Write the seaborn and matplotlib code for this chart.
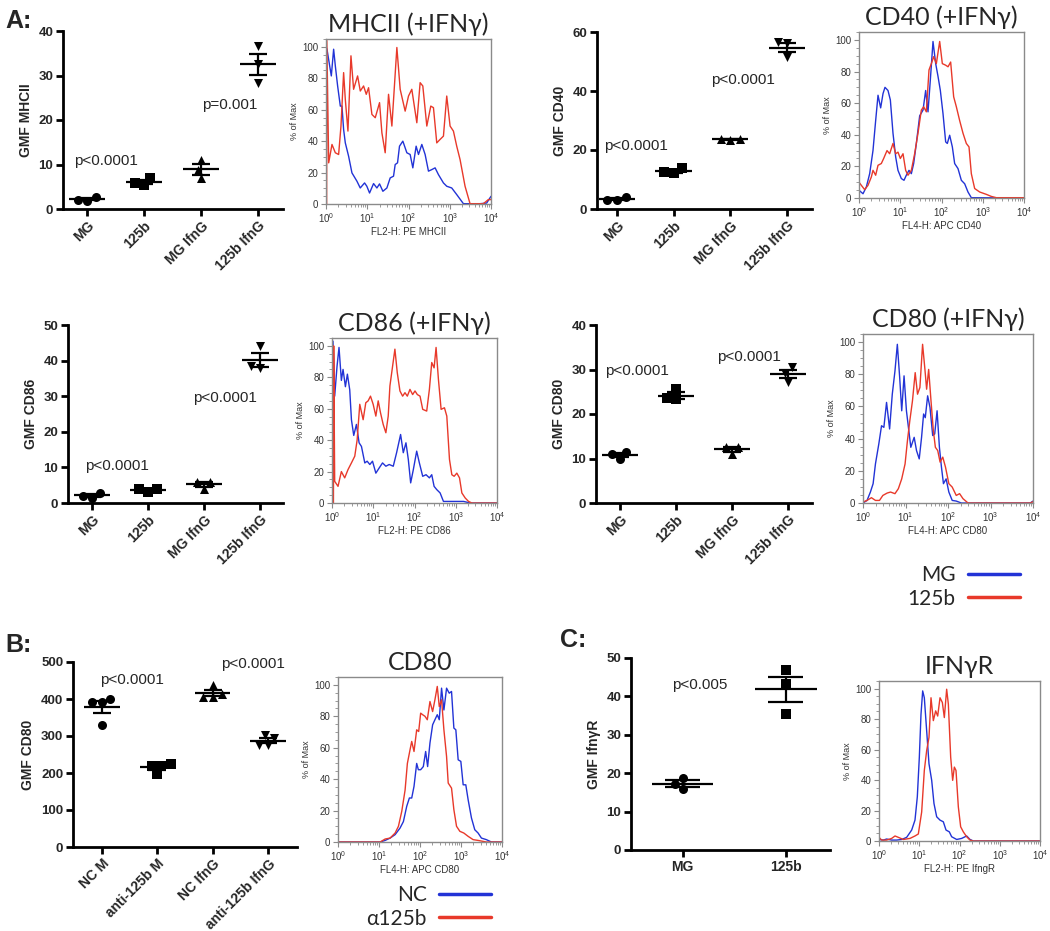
import numpy as np
import pandas as pd
import matplotlib
matplotlib.use("Agg")
import matplotlib.pyplot as plt
import seaborn as sns
from matplotlib.lines import Line2D
from matplotlib.ticker import MultipleLocator, LogLocator, NullFormatter

sns.set_style("ticks")
plt.rcParams["font.family"] = ["Liberation Sans", "DejaVu Sans"]
TITLE_FONT = ["Lato", "Open Sans", "DejaVu Sans"]

# ---------------- data: scatter panels ----------------
GROUPS_A = ["MG", "125b", "MG IfnG", "125b IfnG"]
GROUPS_B = ["NC M", "anti-125b M", "NC IfnG", "anti-125b IfnG"]
GROUPS_C = ["MG", "125b"]

MHCII_VALUES = [[2.6, 1.8, 2.1], [6.9, 5.4, 5.8], [11.1, 8.8, 6.9], [36.6, 32.6, 28.3]]
CD40_VALUES = [[4.2, 3.0, 3.2], [13.8, 12.2, 12.5], [23.7, 23.5, 23.6], [56.5, 56.2, 51.5]]
CD86_VALUES = [[2.8, 1.5, 2.1], [4.0, 3.2, 3.9], [6.0, 4.0, 5.8], [44.2, 37.9, 38.4]]
CD80_VALUES = [[11.4, 9.9, 11.1], [25.6, 23.3, 23.5], [12.6, 11.0, 12.5], [30.5, 29.2, 27.3]]
B_CD80_VALUES = [[392, 391, 401, 329], [220, 198, 224, 218], [414, 438, 405, 406], [295, 303, 275, 277]]
C_IFNGR_VALUES = [[18.8, 15.8, 17.3], [46.8, 43.2, 35.5]]

MHCII_P = [("p<0.0001", 0.33, 10.8), ("p=0.001", 2.5, 23.4)]
CD40_P = [("p<0.0001", 0.33, 21.2), ("p<0.0001", 2.23, 43.7)]
CD86_P = [("p<0.0001", 0.45, 10.4), ("p<0.0001", 2.38, 29.6)]
CD80_P = [("p<0.0001", 0.3, 29.7), ("p<0.0001", 2.3, 32.9)]
B_P = [("p<0.0001", 0.54, 452), ("p<0.0001", 2.73, 495)]
C_P = [("p<0.005", 0.17, 43)]

# ---------------- data: histograms (log10 fluorescence, % of max) ----------------
MHCII_MG_X = [0.0, 0.024, 0.089, 0.129, 0.185, 0.226, 0.282, 0.347, 0.387, 0.427, 0.468, 0.548, 0.629, 0.75, 0.83, 0.935, 0.99, 1.056, 1.153, 1.234, 1.298, 1.379, 1.476, 1.556, 1.637, 1.677, 1.734, 1.782, 1.863, 1.96, 2.04, 2.105, 2.185, 2.242, 2.323, 2.403, 2.484, 2.565, 2.645, 2.726, 2.847, 2.927, 3.048, 3.169, 3.331, 3.734, 3.895, 4.0]
MHCII_MG_Y = [100, 98.5, 87.9, 81.5, 98.5, 87.9, 75.1, 62.3, 62.3, 47.4, 38.9, 30.4, 19.8, 14.5, 10.2, 13.4, 11.3, 7.0, 13.0, 10.2, 12.8, 8.1, 10.2, 16.6, 17.7, 25.1, 26.2, 36.8, 40.0, 32.6, 31.5, 23.0, 36.8, 31.5, 37.9, 31.5, 20.9, 21.9, 23.0, 18.7, 13.4, 11.3, 10.2, 6.0, 0.2, 0.2, 0.6, 4.9]
MHCII_125B_X = [0.015, 0.02, 0.065, 0.145, 0.226, 0.306, 0.363, 0.427, 0.468, 0.532, 0.605, 0.669, 0.766, 0.831, 0.911, 0.976, 1.032, 1.113, 1.194, 1.298, 1.355, 1.435, 1.516, 1.597, 1.718, 1.798, 1.919, 2.0, 2.08, 2.202, 2.282, 2.347, 2.444, 2.54, 2.605, 2.685, 2.766, 2.847, 2.927, 3.008, 3.089, 3.169, 3.25, 3.371, 3.492, 3.815, 3.935, 4.0]
MHCII_125B_Y = [0, 104, 26.2, 37.9, 32.6, 31.5, 49.6, 83.6, 66.6, 46.4, 94.3, 73.0, 81.5, 71.9, 75.1, 69.8, 74.0, 57.0, 54.9, 64.5, 45.3, 32.6, 69.8, 49.6, 99.6, 73.0, 59.1, 68.7, 73.0, 51.7, 77.2, 75.1, 49.6, 62.3, 61.3, 38.9, 41.1, 43.2, 68.7, 49.6, 46.4, 36.8, 28.3, 11.3, 0.2, 0.2, 2.8, 2.8]

CD40_MG_X = [0.0, 0.097, 0.178, 0.259, 0.339, 0.404, 0.461, 0.525, 0.582, 0.63, 0.703, 0.76, 0.824, 0.889, 0.945, 1.026, 1.091, 1.147, 1.212, 1.269, 1.325, 1.39, 1.471, 1.552, 1.616, 1.673, 1.729, 1.794, 1.859, 1.915, 1.972, 2.036, 2.101, 2.141, 2.198, 2.263, 2.319, 2.4, 2.481, 2.562, 2.642, 2.723, 4.0]
CD40_MG_Y = [4.9, 2.7, 7.0, 15.4, 30.0, 49.0, 65.0, 57.0, 66.0, 70.0, 68.0, 62.0, 41.0, 26.0, 17.5, 12.3, 11.2, 14.4, 17.5, 15.4, 21.8, 34.5, 52.0, 55.6, 68.0, 54.5, 74.6, 99.0, 85.0, 77.0, 68.0, 53.5, 35.5, 34.5, 39.7, 32.3, 21.8, 18.6, 11.2, 9.0, 3.8, 0.2, 0.0]
CD40_125B_X = [0.0, 0.057, 0.137, 0.218, 0.299, 0.339, 0.404, 0.461, 0.541, 0.598, 0.679, 0.743, 0.824, 0.889, 0.945, 1.002, 1.067, 1.131, 1.188, 1.269, 1.349, 1.43, 1.511, 1.568, 1.632, 1.697, 1.754, 1.81, 1.875, 1.956, 2.02, 2.101, 2.158, 2.222, 2.295, 2.36, 2.44, 2.521, 2.602, 2.667, 2.723, 2.804, 2.925, 3.087, 3.208, 3.329, 4.0]
CD40_125B_Y = [10.0, 8.0, 5.3, 8.0, 13.3, 17.5, 14.4, 20.7, 21.8, 25.0, 30.0, 28.0, 34.5, 28.0, 29.0, 25.0, 28.0, 17.5, 14.4, 17.5, 28.0, 41.0, 55.6, 57.7, 54.5, 81.0, 85.0, 89.4, 85.0, 99.0, 85.0, 84.0, 83.0, 86.0, 64.0, 57.7, 49.0, 41.0, 34.5, 32.3, 15.4, 6.0, 3.8, 2.3, 1.0, 0.2, 0.2]

CD86_MG_X = [0.02, 0.024, 0.065, 0.122, 0.17, 0.227, 0.268, 0.325, 0.373, 0.43, 0.471, 0.527, 0.592, 0.657, 0.714, 0.795, 0.852, 0.917, 0.982, 1.063, 1.144, 1.225, 1.306, 1.387, 1.485, 1.566, 1.663, 1.728, 1.793, 1.85, 1.907, 1.972, 2.053, 2.118, 2.199, 2.28, 2.361, 2.418, 2.475, 2.54, 2.621, 2.702, 2.783, 3.189, 3.351, 4.0]
CD86_MG_Y = [0, 103, 68, 87, 99, 78, 85, 74, 82, 72, 53, 43, 50, 38.3, 36, 25.5, 26.6, 24.5, 26.6, 19, 22.3, 25.5, 23.4, 24.5, 23.4, 32, 43.6, 32, 38.3, 27.7, 12.8, 21.3, 33, 25.5, 17, 18, 16, 18, 10.6, 8.5, 6.4, 1, 1, 1, 0, 0]
CD86_125B_X = [0.035, 0.041, 0.065, 0.146, 0.227, 0.308, 0.389, 0.471, 0.552, 0.609, 0.673, 0.755, 0.819, 0.876, 0.933, 0.998, 1.063, 1.12, 1.176, 1.241, 1.306, 1.363, 1.404, 1.525, 1.582, 1.647, 1.712, 1.769, 1.826, 1.89, 1.955, 2.012, 2.069, 2.134, 2.199, 2.296, 2.361, 2.418, 2.475, 2.523, 2.58, 2.645, 2.726, 2.783, 2.848, 2.905, 2.961, 3.026, 3.091, 3.148, 3.229, 3.31, 3.391, 4.0]
CD86_125B_Y = [0, 100, 13.8, 10.6, 20, 16, 21.3, 25.5, 29.8, 40, 62.8, 53, 63.8, 65, 68, 62.8, 55.3, 65, 57.4, 50, 44.7, 55.3, 74.5, 97.9, 83, 71.3, 68, 70.2, 68, 72.3, 69, 71.3, 69, 68, 59.6, 58.5, 72.3, 89.4, 86, 99, 78.7, 59.6, 60.6, 55.3, 27.7, 18, 17, 19, 16, 6.4, 3.2, 1, 0, 0]

CD80_MG_X = [0.0, 0.095, 0.174, 0.238, 0.293, 0.372, 0.436, 0.491, 0.554, 0.626, 0.689, 0.752, 0.808, 0.863, 0.911, 0.966, 1.022, 1.069, 1.125, 1.204, 1.259, 1.323, 1.378, 1.426, 1.465, 1.521, 1.576, 1.64, 1.687, 1.743, 1.798, 1.846, 1.893, 1.956, 2.02, 2.099, 2.194, 2.313, 3.937, 4.0]
CD80_MG_Y = [0, 1.6, 6.8, 12, 24.3, 36.7, 48, 47, 62.5, 46, 67.6, 82, 98.6, 78, 57.3, 79, 57.3, 47, 34.6, 40.8, 32.6, 27.4, 40.8, 55.3, 53, 66.6, 59.4, 41.9, 42.9, 57.3, 34.6, 22.3, 12, 15, 6.8, 1.6, 1.2, 0, 0, 1.2]
CD80_125B_X = [0.0, 0.095, 0.198, 0.293, 0.388, 0.467, 0.57, 0.649, 0.752, 0.832, 0.911, 0.99, 1.046, 1.101, 1.164, 1.228, 1.283, 1.339, 1.402, 1.457, 1.497, 1.545, 1.6, 1.655, 1.703, 1.758, 1.814, 1.877, 1.941, 2.02, 2.099, 2.194, 2.273, 2.352, 2.471, 3.937, 4.0]
CD80_125B_Y = [0.6, 1.6, 3.3, 1.6, 1.6, 4.7, 6.2, 6.8, 5.8, 8.9, 15, 24.3, 38.8, 51, 63.5, 81, 67.6, 71.8, 98.6, 83, 70.7, 83, 63.5, 45, 34.6, 32.6, 25.4, 28.5, 22.3, 12, 9.9, 4.7, 5.8, 2.7, 0, 0, 0.8]

B_NC_X = [0.0, 1.028, 1.15, 1.271, 1.393, 1.514, 1.595, 1.676, 1.741, 1.798, 1.854, 1.919, 1.96, 2.016, 2.081, 2.138, 2.186, 2.243, 2.308, 2.364, 2.421, 2.47, 2.526, 2.583, 2.648, 2.713, 2.769, 2.826, 2.874, 2.931, 2.996, 3.053, 3.117, 3.174, 3.255, 3.336, 3.417, 3.498, 3.619, 3.741, 4.0]
B_NC_Y = [0, 0, 1, 2.5, 4.7, 8.9, 13, 22.7, 28, 28, 35.4, 50, 46, 46, 48, 57.6, 48, 63, 74.6, 77.8, 81, 77.8, 97.9, 84, 97.9, 94.7, 95.8, 72.5, 71.4, 52.3, 51.3, 36.4, 36.4, 26.9, 15.3, 7.8, 5.7, 2.5, 1.5, 0, 0]
B_A125B_X = [0.0, 1.028, 1.15, 1.271, 1.393, 1.474, 1.555, 1.636, 1.692, 1.757, 1.798, 1.854, 1.919, 1.968, 2.016, 2.065, 2.121, 2.178, 2.243, 2.308, 2.364, 2.421, 2.47, 2.526, 2.583, 2.648, 2.688, 2.769, 2.826, 2.891, 2.972, 3.069, 3.174, 3.296, 3.417, 3.619, 4.0]
B_A125B_Y = [0, 0, 1.9, 2.5, 5.7, 10, 19.5, 33, 50, 58.7, 64, 57.6, 71.4, 70.3, 82, 81, 80, 77.8, 89.4, 83, 90.5, 99, 86.2, 90.5, 71.4, 54.4, 37.5, 34.3, 20.6, 10, 6.8, 5.7, 3.6, 1.5, 1, 0, 0]

C_MG_X = [0.0, 0.108, 0.19, 0.315, 0.439, 0.563, 0.687, 0.812, 0.894, 0.952, 1.002, 1.043, 1.085, 1.126, 1.184, 1.242, 1.309, 1.366, 1.433, 1.516, 1.598, 1.665, 1.747, 1.805, 1.93, 2.054, 2.178, 2.261, 2.344, 4.0]
C_MG_Y = [1, 0.6, 1.3, 0.6, 0.6, 1, 2.4, 7.2, 13.7, 29, 55, 83, 98.5, 94, 72.4, 50.7, 39.8, 24.6, 15.9, 13.7, 12.6, 7.2, 6, 2.8, 1, 1.7, 3.3, 1, 0, 0]
C_125B_X = [0.0, 0.066, 0.19, 0.315, 0.398, 0.48, 0.605, 0.77, 0.894, 0.977, 1.06, 1.126, 1.184, 1.242, 1.292, 1.35, 1.408, 1.458, 1.516, 1.574, 1.623, 1.681, 1.723, 1.781, 1.83, 1.872, 1.913, 1.971, 2.029, 2.095, 2.178, 2.261, 2.344, 4.0]
C_125B_Y = [2.4, 0.6, 0.6, 1.7, 3.3, 2.4, 1, 1.7, 3.3, 4.6, 19, 46.3, 59.3, 68, 94, 79, 85.4, 82, 94, 90.9, 81, 99.6, 89.8, 55, 39.8, 48.5, 46.3, 22.4, 9.3, 6, 2.8, 0.6, 0, 0]

# ---------------- layout helpers ----------------
W, H = 1050, 931
fig = plt.figure(figsize=(W / 100, H / 100), dpi=100)
fig.patch.set_facecolor("white")


def rect(l, t, r, b):
    return [l / W, 1 - b / H, (r - l) / W, (b - t) / H]


BLUE = "#2233d6"
RED = "#e8392a"


def scatter_panel(box, cats, values, markers, ymax, ystep, ylabel, pvals, xlim,
                  rotate=True, mean_hw=0.32, cap_hw=0.16):
    ax = fig.add_axes(rect(*box))
    df = pd.DataFrame({
        "group": np.repeat(cats, [len(v) for v in values]),
        "value": np.concatenate([np.asarray(v, float) for v in values]),
    })
    for g, m in zip(cats, markers):
        sns.swarmplot(data=df[df["group"] == g], x="group", y="value", order=cats,
                      marker=m, color="black", size=6.5, ax=ax, zorder=3)
    stats = df.groupby("group", sort=False)["value"].agg(["mean", "sem"])
    for i, g in enumerate(cats):
        mu, se = stats.loc[g, "mean"], stats.loc[g, "sem"]
        ax.hlines(mu, i - mean_hw, i + mean_hw, color="black", lw=1.6, zorder=4)
        ax.vlines(i, mu - se, mu + se, color="black", lw=1.6, zorder=4)
        ax.hlines([mu - se, mu + se], i - cap_hw, i + cap_hw, color="black", lw=1.6, zorder=4)
    ax.set_xlim(*xlim)
    ax.set_ylim(0, ymax)
    ax.set_yticks(np.arange(0, ymax + ystep / 2, ystep))
    ax.set_xticks(range(len(cats)))
    if rotate:
        ax.set_xticklabels(cats, rotation=45, ha="right", rotation_mode="anchor",
                           fontweight="bold", fontsize=10)
    else:
        ax.set_xticklabels(cats, fontweight="bold", fontsize=10)
    for lbl in ax.get_yticklabels():
        lbl.set_fontweight("bold")
        lbl.set_fontsize(9.5)
    ax.set_xlabel("")
    ax.set_ylabel(ylabel, fontweight="bold", fontsize=10)
    for s in ["top", "right"]:
        ax.spines[s].set_visible(False)
    for s in ["left", "bottom"]:
        ax.spines[s].set_linewidth(2.0)
        ax.spines[s].set_color("black")
    ax.tick_params(width=2.0, length=5, direction="out", color="black", pad=2)
    ax.set_facecolor("none")
    for text, x, y in pvals:
        ax.text(x, y, text, ha="center", va="center", fontsize=11)
    return ax


def hist_panel(box, title, xlabel, curves):
    ax = fig.add_axes(rect(*box))
    for lx, ly, col in curves:
        sns.lineplot(x=np.power(10.0, np.asarray(lx)), y=ly, color=col, lw=1.0,
                     sort=False, estimator=None, ax=ax)
    ax.set_xscale("log")
    ax.set_xlim(1, 1e4)
    ax.set_ylim(0, 105)
    ax.set_yticks([0, 20, 40, 60, 80, 100])
    ax.yaxis.set_minor_locator(MultipleLocator(5))
    ax.xaxis.set_major_locator(LogLocator(base=10, numticks=10))
    ax.xaxis.set_minor_locator(LogLocator(base=10, subs=np.arange(2, 10), numticks=10))
    ax.xaxis.set_minor_formatter(NullFormatter())
    for s in ax.spines.values():
        s.set_visible(True)
        s.set_color("#8a8a8a")
        s.set_linewidth(1.0)
    ax.tick_params(which="major", length=3.5, width=0.8, color="#8a8a8a",
                   labelsize=7, labelcolor="#333333", pad=2)
    ax.tick_params(which="minor", length=2, width=0.6, color="#8a8a8a")
    ax.set_ylabel("% of Max", fontsize=6.5, color="#333333", labelpad=2)
    ax.set_xlabel(xlabel, fontsize=7, color="#333333", labelpad=1)
    ax.set_title(title, fontsize=18, family=TITLE_FONT, pad=5)
    return ax


MK4 = ["o", "s", "^", "v"]

# ---------------- panel A ----------------
scatter_panel((63, 31, 283, 209), GROUPS_A, MHCII_VALUES, MK4, 40, 10, "GMF MHCII", MHCII_P, (-0.42, 3.44))
hist_panel((326, 39, 491, 204), "MHCII (+IFNγ)", "FL2-H: PE MHCII",
           [(MHCII_MG_X, MHCII_MG_Y, BLUE), (MHCII_125B_X, MHCII_125B_Y, RED)])

scatter_panel((597, 32, 812, 209), GROUPS_A, CD40_VALUES, MK4, 60, 20, "GMF CD40", CD40_P, (-0.35, 3.44))
hist_panel((859, 32, 1024, 198), "CD40 (+IFNγ)", "FL4-H: APC CD40",
           [(CD40_MG_X, CD40_MG_Y, BLUE), (CD40_125B_X, CD40_125B_Y, RED)])

scatter_panel((68, 325, 283, 503), GROUPS_A, CD86_VALUES, MK4, 50, 10, "GMF CD86", CD86_P, (-0.43, 3.41))
hist_panel((332, 338, 497, 503), "CD86 (+IFNγ)", "FL2-H: PE CD86",
           [(CD86_MG_X, CD86_MG_Y, BLUE), (CD86_125B_X, CD86_125B_Y, RED)])

scatter_panel((596, 325, 812, 503), GROUPS_A, CD80_VALUES, MK4, 40, 10, "GMF CD80", CD80_P, (-0.43, 3.43))
hist_panel((863, 334, 1033, 503), "CD80 (+IFNγ)", "FL4-H: APC CD80",
           [(CD80_MG_X, CD80_MG_Y, BLUE), (CD80_125B_X, CD80_125B_Y, RED)])

# ---------------- panel B ----------------
scatter_panel((73, 662, 297, 847), GROUPS_B, B_CD80_VALUES, MK4, 500, 100, "GMF CD80", B_P, (-0.52, 3.52))
hist_panel((338, 677, 502, 842), "CD80", "FL4-H: APC CD80",
           [(B_NC_X, B_NC_Y, BLUE), (B_A125B_X, B_A125B_Y, RED)])

# ---------------- panel C ----------------
scatter_panel((631, 658, 830, 850), GROUPS_C, C_IFNGR_VALUES, ["o", "s"], 50, 10, "GMF IfnγR", C_P,
              (-0.5, 1.43), rotate=False, mean_hw=0.3, cap_hw=0.17)
hist_panel((879, 681, 1040, 841), "IFNγR", "FL2-H: PE IfngR",
           [(C_MG_X, C_MG_Y, BLUE), (C_125B_X, C_125B_Y, RED)])

# ---------------- legends ----------------
LEGEND_A = ["MG", "125b"]
LEGEND_B = ["NC", "α125b"]
for labels, cx, cy in [(LEGEND_A, 964, 587), (LEGEND_B, 429, 907)]:
    handles = [Line2D([], [], color=BLUE, lw=2.5), Line2D([], [], color=RED, lw=2.5)]
    fig.legend(handles, labels, loc="center", bbox_to_anchor=(cx / W, 1 - cy / H),
               markerfirst=False, frameon=False, handlelength=2.5, handletextpad=0.6,
               labelspacing=0.15, prop={"family": TITLE_FONT, "size": 15})

# ---------------- panel letters ----------------
for letter, x, y in [("A:", 5, 28), ("B:", 5, 652), ("C:", 560, 647)]:
    fig.text(x / W, 1 - y / H, letter, fontsize=18, fontweight="bold", va="baseline", ha="left")

fig.savefig("out.png", dpi=100, facecolor="white")
